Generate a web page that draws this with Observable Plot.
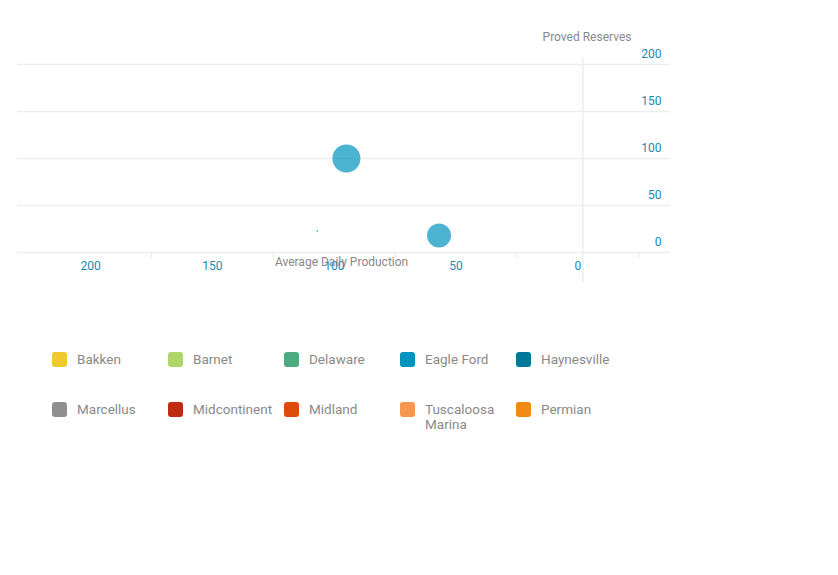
<!DOCTYPE html>
<html><head><meta charset="utf-8">
<script src="https://cdn.jsdelivr.net/npm/d3@7"></script>
<script src="https://cdn.jsdelivr.net/npm/@observablehq/plot@0.6"></script>
<style>
body{margin:0;background:#fff;font-family:Roboto,sans-serif}
#legend{display:grid;grid-template-columns:repeat(5,116px);row-gap:18px;margin-left:52px;margin-top:32px}
.it{display:flex;align-items:flex-start;font-size:13.5px;color:#8a8a8a;line-height:15px;min-height:32px}
.sw{width:15px;height:15px;border-radius:3px;margin-right:10px;flex:none}
</style></head><body>
<div id="chart"></div>
<div id="legend"></div>
<script>
const basins = ["Bakken","Barnet","Delaware","Eagle Ford","Haynesville","Marcellus","Midcontinent","Midland","Tuscaloosa Marina","Permian"];
const colors = ["#f0c92f","#aed66a","#4aaa80","#0093bd","#00789a","#8f8f8f","#c12a12","#de4a0a","#f7964d","#f08a13"];
const pointBasin = ["Eagle Ford","Eagle Ford","Haynesville"];
const production = [95, 57, 107];
const reserves = [100, 18, 23];
const size = [14, 12, 0.8];
const xTicks = [200,150,100,50,0];
const xMinor = [175,125,75,25,-25];
const yTicks = [0,50,100,150,200];

const pts = production.map((p,i)=>({basin:pointBasin[i], x:p, y:reserves[i], r:size[i]}));
const chart = Plot.plot({
  width: 838, height: 320, marginLeft: 17, marginRight: 168, marginTop: 64, marginBottom: 68,
  style:{fontFamily:"Roboto,sans-serif", fontSize:"12px", overflow:"visible"},
  x:{type:"linear", domain:[230,-38], label:null},
  y:{type:"linear", domain:[0,200], label:null},
  r:{type:"identity"},
  marks:[
    Plot.ruleY(yTicks,{stroke:"#eee", strokeWidth:1.5}),
    Plot.ruleX([-2],{y1:-32, y2:207, stroke:"#eee", strokeWidth:1.5}),
    Plot.ruleX(xMinor,{y1:0, y2:-6, stroke:"#e8e8e8"}),
    Plot.axisX({ticks:xTicks, tickSize:0, tickPadding:9, fill:"#1a8ab0", fontSize:12, label:null}),
    Plot.axisY({ticks:yTicks, anchor:"right", tickSize:0, tickPadding:-9, textAnchor:"end", dy:-10, fill:"#1a8ab0", fontSize:12, label:null}),
    Plot.text(["Average Daily Production"],{x:97, frameAnchor:"bottom", dy:13, fill:"#888", fontSize:12}),
    Plot.text(["Proved Reserves"],{frameAnchor:"top-right", dy:-32, dx:-39, fill:"#888", fontSize:12}),
    Plot.dot(pts,{x:"x", y:"y", r:"r", fill:d=>colors[basins.indexOf(d.basin)], fillOpacity:0.7})
  ]
});
document.getElementById("chart").appendChild(chart);
const lg = document.getElementById("legend");
basins.forEach((b,i)=>{
  const d=document.createElement("div");d.className="it";
  d.innerHTML=`<span class="sw" style="background:${colors[i]}"></span><span>${b}</span>`;
  lg.appendChild(d);
});
</script></body></html>
